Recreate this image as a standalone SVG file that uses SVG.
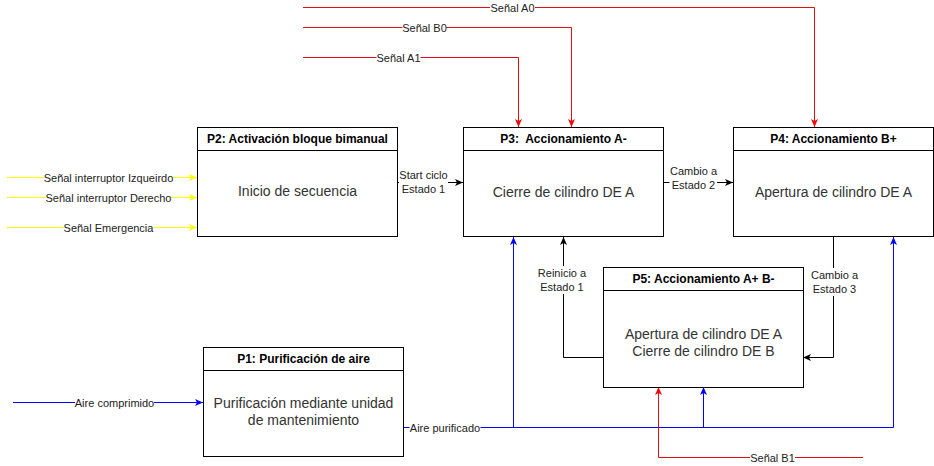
<svg xmlns="http://www.w3.org/2000/svg" width="934" height="466" viewBox="0 0 934 466">
<style>
.box{fill:#fff;stroke:#000;stroke-width:1}
.hd{font-family:"Liberation Sans",Arial,sans-serif;font-size:12px;font-weight:bold;fill:#000;text-anchor:middle}
.bd{font-family:"Liberation Sans",Arial,sans-serif;font-size:14px;fill:#333;text-anchor:middle}
.lb{font-family:"Liberation Sans",Arial,sans-serif;font-size:11px;fill:#222;text-anchor:middle}
.bg{fill:#fff;stroke:none}
.e{fill:none;stroke-width:1}
.k{stroke:#000}
.r{stroke:#e01010}
.b{stroke:#0000ff}
.y{stroke:#ffff00}
</style>
<defs>
<marker id="ak" viewBox="0 0 8 8" refX="8" refY="4" markerWidth="8" markerHeight="8" markerUnits="userSpaceOnUse" orient="auto"><path d="M0,0.5 L8,4 L0,7.5 L2,4 Z" fill="#000"/></marker>
<marker id="ar" viewBox="0 0 8 8" refX="8" refY="4" markerWidth="8" markerHeight="8" markerUnits="userSpaceOnUse" orient="auto"><path d="M0,0.5 L8,4 L0,7.5 L2,4 Z" fill="#ff0000"/></marker>
<marker id="ab" viewBox="0 0 8 8" refX="8" refY="4" markerWidth="8" markerHeight="8" markerUnits="userSpaceOnUse" orient="auto"><path d="M0,0.5 L8,4 L0,7.5 L2,4 Z" fill="#0000ff"/></marker>
<marker id="ay" viewBox="0 0 8 8" refX="8" refY="4" markerWidth="8" markerHeight="8" markerUnits="userSpaceOnUse" orient="auto"><path d="M0,0.5 L8,4 L0,7.5 L2,4 Z" fill="#ffff00"/></marker>
</defs>
<g id="connectors">
<path class="e r" d="M303,7.5 H814.5 V127" marker-end="url(#ar)"/>
<path class="e r" d="M303,27.5 H571.5 V127" marker-end="url(#ar)"/>
<path class="e r" d="M303,57.5 H518.5 V127" marker-end="url(#ar)"/>
<path class="e y" d="M7,177.5 H197" marker-end="url(#ay)"/>
<path class="e y" d="M7,197.5 H197" marker-end="url(#ay)"/>
<path class="e y" d="M7,227.5 H197" marker-end="url(#ay)"/>
<path class="e k" d="M397,182.5 H463" marker-end="url(#ak)"/>
<path class="e k" d="M663,182.5 H733" marker-end="url(#ak)"/>
<path class="e k" d="M603,357.5 H563.5 V237" marker-end="url(#ak)"/>
<path class="e k" d="M833.5,237 V357.5 H803" marker-end="url(#ak)"/>
<path class="e b" d="M13,402.5 H203" marker-end="url(#ab)"/>
<path class="e b" d="M403,427.5 H893.5 V237" marker-end="url(#ab)"/>
<path class="e b" d="M513.5,427.5 V237" marker-end="url(#ab)"/>
<path class="e b" d="M703.5,427.5 V387" marker-end="url(#ab)"/>
<path class="e r" d="M863,457.5 H658.5 V387" marker-end="url(#ar)"/>
<g id="edge-labels">
<rect class="bg" x="490" y="1" width="45" height="13"/><text class="lb" x="512.5" y="11.5">Señal A0</text>
<rect class="bg" x="402.5" y="21" width="44" height="13"/><text class="lb" x="424.5" y="31.5">Señal B0</text>
<rect class="bg" x="376.5" y="51" width="44" height="13"/><text class="lb" x="398.5" y="61.5">Señal A1</text>
<rect class="bg" x="44" y="171" width="129" height="13"/><text class="lb" x="108.5" y="181.5">Señal interruptor Izqueirdo</text>
<rect class="bg" x="45.5" y="191" width="125.5" height="13"/><text class="lb" x="108.5" y="201.5">Señal interruptor Derecho</text>
<rect class="bg" x="64" y="221" width="89.5" height="13"/><text class="lb" x="108.5" y="231.5">Señal Emergencia</text>
<rect class="bg" x="399" y="168" width="49" height="28"/><text class="lb" x="423.5" y="178.5">Start ciclo</text><text class="lb" x="423.5" y="192.5">Estado 1</text>
<rect class="bg" x="669.5" y="164" width="47.5" height="28"/><text class="lb" x="693.5" y="175">Cambio a</text><text class="lb" x="693.5" y="189">Estado 2</text>
<rect class="bg" x="538" y="266" width="48" height="28"/><text class="lb" x="562" y="276.5">Reinicio a</text><text class="lb" x="562" y="290.5">Estado 1</text>
<rect class="bg" x="810.5" y="268" width="47.5" height="28"/><text class="lb" x="834.5" y="278.5">Cambio a</text><text class="lb" x="834.5" y="292.5">Estado 3</text>
<rect class="bg" x="75" y="396" width="79" height="13"/><text class="lb" x="114.5" y="406.5">Aire comprimido</text>
<rect class="bg" x="409.5" y="421" width="71" height="13"/><text class="lb" x="445" y="431.5">Aire purificado</text>
<rect class="bg" x="750" y="451" width="45" height="13"/><text class="lb" x="772.5" y="461.5">Señal B1</text>
</g>
</g>
<g id="P2">
<rect class="box" x="197.5" y="127.5" width="200" height="109"/>
<path class="e k" d="M197.5,150.5 H397.5"/>
<text class="hd" x="297.5" y="143">P2: Activación bloque bimanual</text>
<text class="bd" x="297.5" y="196">Inicio de secuencia</text>
</g>
<g id="P3">
<rect class="box" x="463.5" y="127.5" width="200" height="109"/>
<path class="e k" d="M463.5,150.5 H663.5"/>
<text class="hd" x="563.5" y="143" xml:space="preserve">P3:  Accionamiento A-</text>
<text class="bd" x="563.5" y="197">Cierre de cilindro DE A</text>
</g>
<g id="P4">
<rect class="box" x="733.5" y="127.5" width="200" height="109"/>
<path class="e k" d="M733.5,150.5 H933.5"/>
<text class="hd" x="833.5" y="143">P4: Accionamiento B+</text>
<text class="bd" x="833.5" y="197">Apertura de cilindro DE A</text>
</g>
<g id="P5">
<rect class="box" x="603.5" y="267.5" width="200" height="120"/>
<path class="e k" d="M603.5,290.5 H803.5"/>
<text class="hd" x="703.5" y="283">P5: Accionamiento A+ B-</text>
<text class="bd" x="703.5" y="339">Apertura de cilindro DE A</text>
<text class="bd" x="703.5" y="356">Cierre de cilindro DE B</text>
</g>
<g id="P1">
<rect class="box" x="203.5" y="347.5" width="200" height="109"/>
<path class="e k" d="M203.5,370.5 H403.5"/>
<text class="hd" x="303.5" y="363">P1: Purificación de aire</text>
<text class="bd" x="303.5" y="408">Purificación mediante unidad</text>
<text class="bd" x="303.5" y="425">de mantenimiento</text>
</g>
</svg>
